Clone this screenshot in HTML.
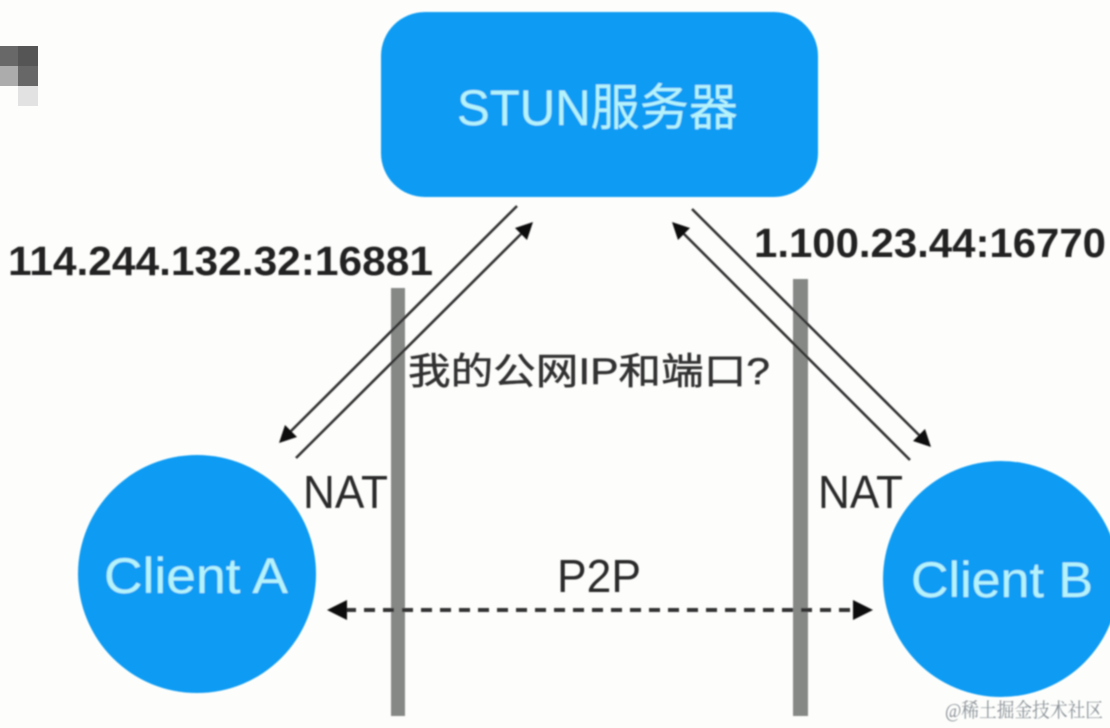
<!DOCTYPE html>
<html>
<head>
<meta charset="utf-8">
<style>
html,body{margin:0;padding:0;background:#fdfefc;width:1110px;height:728px;overflow:hidden}
svg{display:block}
text{font-family:"Liberation Sans","Noto Sans CJK SC",sans-serif}
</style>
</head>
<body>
<svg width="1110" height="728" viewBox="0 0 1110 728" xmlns="http://www.w3.org/2000/svg">
<defs>
<filter id="b" x="-5%" y="-5%" width="110%" height="110%"><feGaussianBlur stdDeviation="0.8"/></filter>
</defs>
<rect width="1110" height="728" fill="#fdfefc"/>
<rect x="0" y="46" width="18" height="20" fill="#686868"/>
<rect x="18" y="46" width="20" height="20" fill="#555"/>
<rect x="0" y="66" width="18" height="20" fill="#acacac"/>
<rect x="18" y="66" width="20" height="20" fill="#676767"/>
<rect x="18" y="86" width="20" height="20" fill="#e2e2e2"/>
<g filter="url(#b)">
<rect x="381" y="12" width="437" height="185" rx="44" ry="44" fill="#0e9bf3"/>
<ellipse cx="197" cy="574" rx="119" ry="119" fill="#0e9bf3"/>
<ellipse cx="1001" cy="579" rx="118" ry="118" fill="#0e9bf3"/>
<rect x="391" y="288" width="14" height="428" fill="#868886"/>
<rect x="793" y="279" width="15" height="437" fill="#868886"/>
<g stroke="#333" stroke-width="2.6" fill="none">
<line x1="517" y1="206" x2="288" y2="434"/>
<line x1="296" y1="458" x2="525" y2="230"/>
<line x1="692" y1="209" x2="922" y2="438"/>
<line x1="910" y1="460" x2="680" y2="230"/>
<line x1="345" y1="610" x2="855" y2="610" stroke-width="4" stroke-dasharray="11 8"/>
</g>
<g fill="#111">
<polygon points="279,443 285,425 297,437"/>
<polygon points="533,222 527,240 515,228"/>
<polygon points="931,447 913,441 925,429"/>
<polygon points="672,222 690,228 678,240"/>
<polygon points="327,610 347,600 347,620"/>
<polygon points="873,610 853,600 853,620"/>
</g>
<text x="457" y="125" font-size="50" fill="#b5f3fb" textLength="281" lengthAdjust="spacingAndGlyphs">STUN服务器</text>
<text x="104" y="593" font-size="50" fill="#b5f3fb" textLength="184" lengthAdjust="spacingAndGlyphs">Client A</text>
<text x="911" y="597" font-size="50" fill="#b5f3fb" textLength="182" lengthAdjust="spacingAndGlyphs">Client B</text>
<text x="8" y="275" font-size="41" font-weight="700" fill="#222" textLength="425" lengthAdjust="spacingAndGlyphs">114.244.132.32:16881</text>
<text x="754" y="257" font-size="41" font-weight="700" fill="#222" textLength="352" lengthAdjust="spacingAndGlyphs">1.100.23.44:16770</text>
<text x="408" y="384" font-size="37" fill="#333" stroke="#333" stroke-width="0.5" textLength="362" lengthAdjust="spacingAndGlyphs">我的公网IP和端口?</text>
<text x="303" y="508" font-size="46" fill="#2a2a2a" textLength="85" lengthAdjust="spacingAndGlyphs">NAT</text>
<text x="818" y="508" font-size="46" fill="#2a2a2a" textLength="85" lengthAdjust="spacingAndGlyphs">NAT</text>
<text x="557" y="592" font-size="46" fill="#2a2a2a" textLength="84" lengthAdjust="spacingAndGlyphs">P2P</text>
<text x="945" y="717" font-size="20" fill="#8a9096" textLength="158" lengthAdjust="spacingAndGlyphs" style="font-family:'Liberation Serif','Noto Serif CJK SC',serif">@稀土掘金技术社区</text>
</g>
</svg>
</body>
</html>
